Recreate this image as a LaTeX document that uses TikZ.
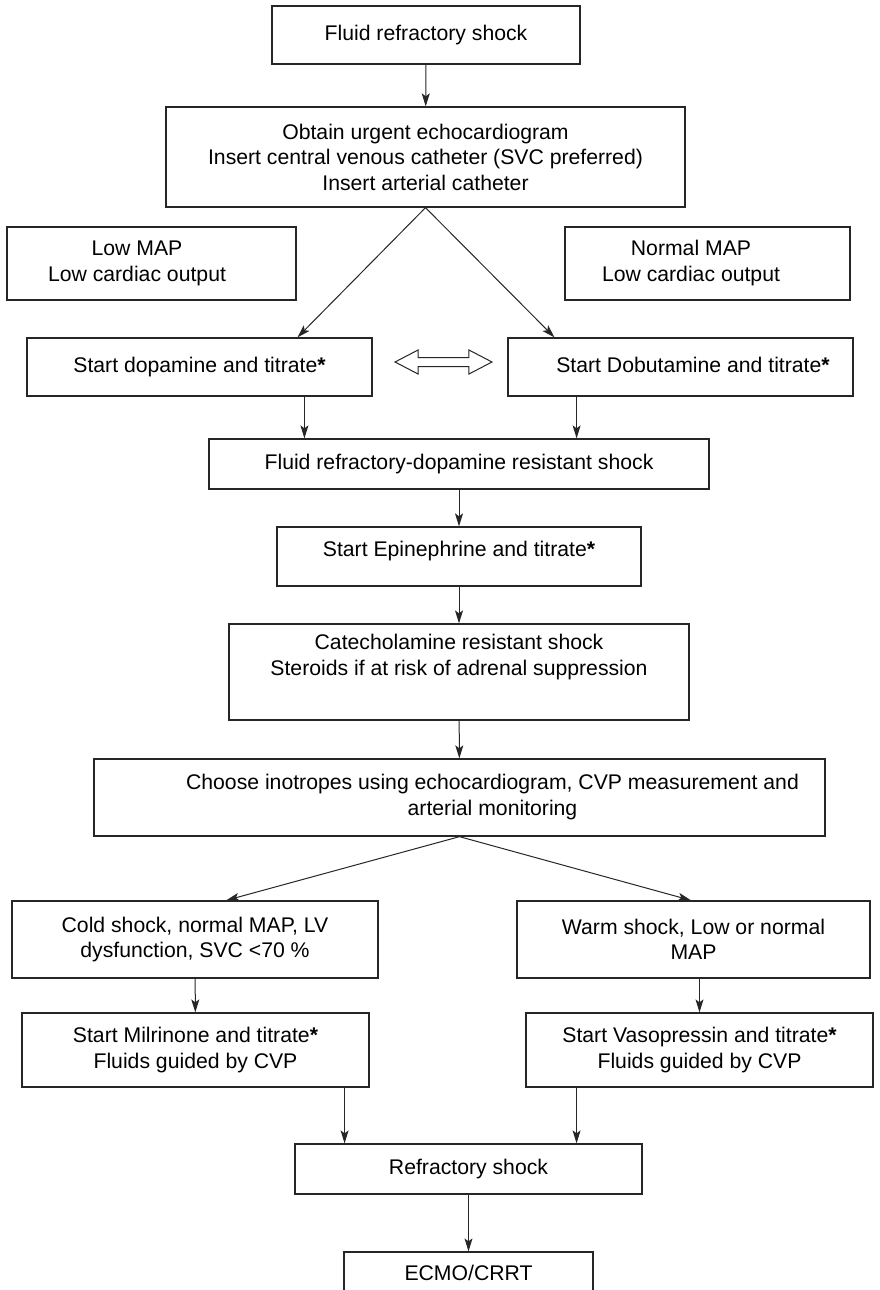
\documentclass[tikz,border=0pt]{standalone}
\usepackage{fontspec}
\setmainfont{Liberation Sans}
\usepackage{tikz}
\usetikzlibrary{arrows.meta, calc, shapes.arrows}

% text pushed off centre inside a box
\newcommand{\padtext}[3]{\begin{tabular}{@{\hspace{#1}}c@{\hspace{#2}}}#3\end{tabular}}

\begin{document}
\begin{tikzpicture}[
  x=1pt, y=-1pt,
  box/.style={rectangle, draw=black!85, line width=1.3pt, fill=white,
              inner sep=6pt, align=center,
              font=\fontsize{21.2pt}{25.5pt}\selectfont},
  flow/.style={-{Stealth[length=13pt, width=8pt, inset=3pt]},
               line width=1pt, draw=black!85},
  bothways/.style={double arrow, draw=black!85, line width=1pt, fill=white,
                   minimum height=97pt, inner sep=4pt,
                   double arrow head extend=7.5pt, double arrow tip angle=55}
]

\useasboundingbox (0,0) rectangle (879,1290);
\clip (0,0) rectangle (879,1290);

% ── Top of the chart ──
\node[box, minimum width=308pt, minimum height=58pt] (start) at (426,35) {Fluid refractory shock};
\node[box, minimum width=519pt, minimum height=100pt] (prep) at (425.5,157)
  {Obtain urgent echocardiogram\\Insert central venous catheter (SVC preferred)\\Insert arterial catheter};

\node[box, minimum width=289pt, minimum height=73pt] (lowmap) at (151.5,263.5)
  {\padtext{0pt}{29pt}{Low MAP\\Low cardiac output}};
\node[box, minimum width=285pt, minimum height=73pt] (normmap) at (707.5,263.5)
  {\padtext{0pt}{33pt}{Normal MAP\\Low cardiac output}};

% ── First drugs ──
\node[box, minimum width=345pt, minimum height=58pt] (dopa) at (199.5,367)
  {Start dopamine and titrate\textbf{*}};
\node[box, minimum width=345pt, minimum height=58pt] (dobu) at (680.5,367)
  {\padtext{25pt}{0pt}{Start Dobutamine and titrate\textbf{*}}};
\node[bothways] (swapsign) at (443.5,362) {};

% ── Middle column ──
\node[box, minimum width=500pt, minimum height=50pt] (frdr) at (459,464)
  {Fluid refractory-dopamine resistant shock};
\node[box, minimum width=364pt, minimum height=59pt, text height=10pt, text depth=10pt] (epi) at (459,556.5)
  {Start Epinephrine and titrate\textbf{*}};
\node[box, minimum width=460pt, minimum height=96pt] (cat) at (459,672)
  {Catecholamine resistant shock\\Steroids if at risk of adrenal suppression\\[9pt]\mbox{}};
\node[box, minimum width=731pt, minimum height=77pt] (choose) at (459.5,797.5)
  {\padtext{66pt}{0pt}{Choose inotropes using echocardiogram, CVP measurement and\\arterial monitoring}};

% ── Cold / warm branches ──
\node[box, minimum width=366pt, minimum height=77pt] (cold) at (195,939.5)
  {Cold shock, normal MAP, LV\\dysfunction, SVC <70 \%};
\node[box, minimum width=353pt, minimum height=77pt] (warm) at (693.5,939.5)
  {Warm shock, Low or normal\\MAP};
\node[box, minimum width=347pt, minimum height=74pt] (milri) at (195.5,1050)
  {Start Milrinone and titrate\textbf{*}\\Fluids guided by CVP};
\node[box, minimum width=347pt, minimum height=74pt] (vaso) at (699.5,1050)
  {Start Vasopressin and titrate\textbf{*}\\Fluids guided by CVP};

% ── Bottom ──
\node[box, minimum width=347pt, minimum height=50pt] (refr) at (468.5,1169) {Refractory shock};
\node[box, minimum width=249pt, minimum height=42pt] (ecmo) at (468.5,1273) {ECMO/CRRT};

% ── Connectors ──
\coordinate (dopain) at ($(dopa.north west)!0.783!(dopa.north east)$);
\coordinate (dobuin) at ($(dobu.north west)!0.136!(dobu.north east)$);
\coordinate (dopaout) at ($(dopa.south west)!0.803!(dopa.south east)$);
\coordinate (dobuout) at ($(dobu.south west)!0.2!(dobu.south east)$);
\coordinate (coldin) at ($(cold.north west)!0.585!(cold.north east)$);
\coordinate (warmin) at ($(warm.north west)!0.493!(warm.north east)$);
\coordinate (milriout) at ($(milri.south west)!0.928!(milri.south east)$);
\coordinate (vasoout) at ($(vaso.south west)!0.147!(vaso.south east)$);

\draw[flow] (start) -- (prep);
\draw[flow] (prep.south) -- (dopain);
\draw[flow] (prep.south) -- (dobuin);
\draw[flow] (dopaout) -- (dopaout |- frdr.north);
\draw[flow] (dobuout) -- (dobuout |- frdr.north);
\draw[flow] (frdr) -- (epi);
\draw[flow] (epi) -- (cat);
\draw[flow] (cat) -- (choose);
\draw[flow] (choose.south) -- (coldin);
\draw[flow] (choose.south) -- (warmin);
\draw[flow] (cold) -- (milri);
\draw[flow] (vaso.north |- warm.south) -- (vaso.north);
\draw[flow] (milriout) -- (milriout |- refr.north);
\draw[flow] (vasoout) -- (vasoout |- refr.north);
\draw[flow] (refr) -- (ecmo);

\end{tikzpicture}
\end{document}
